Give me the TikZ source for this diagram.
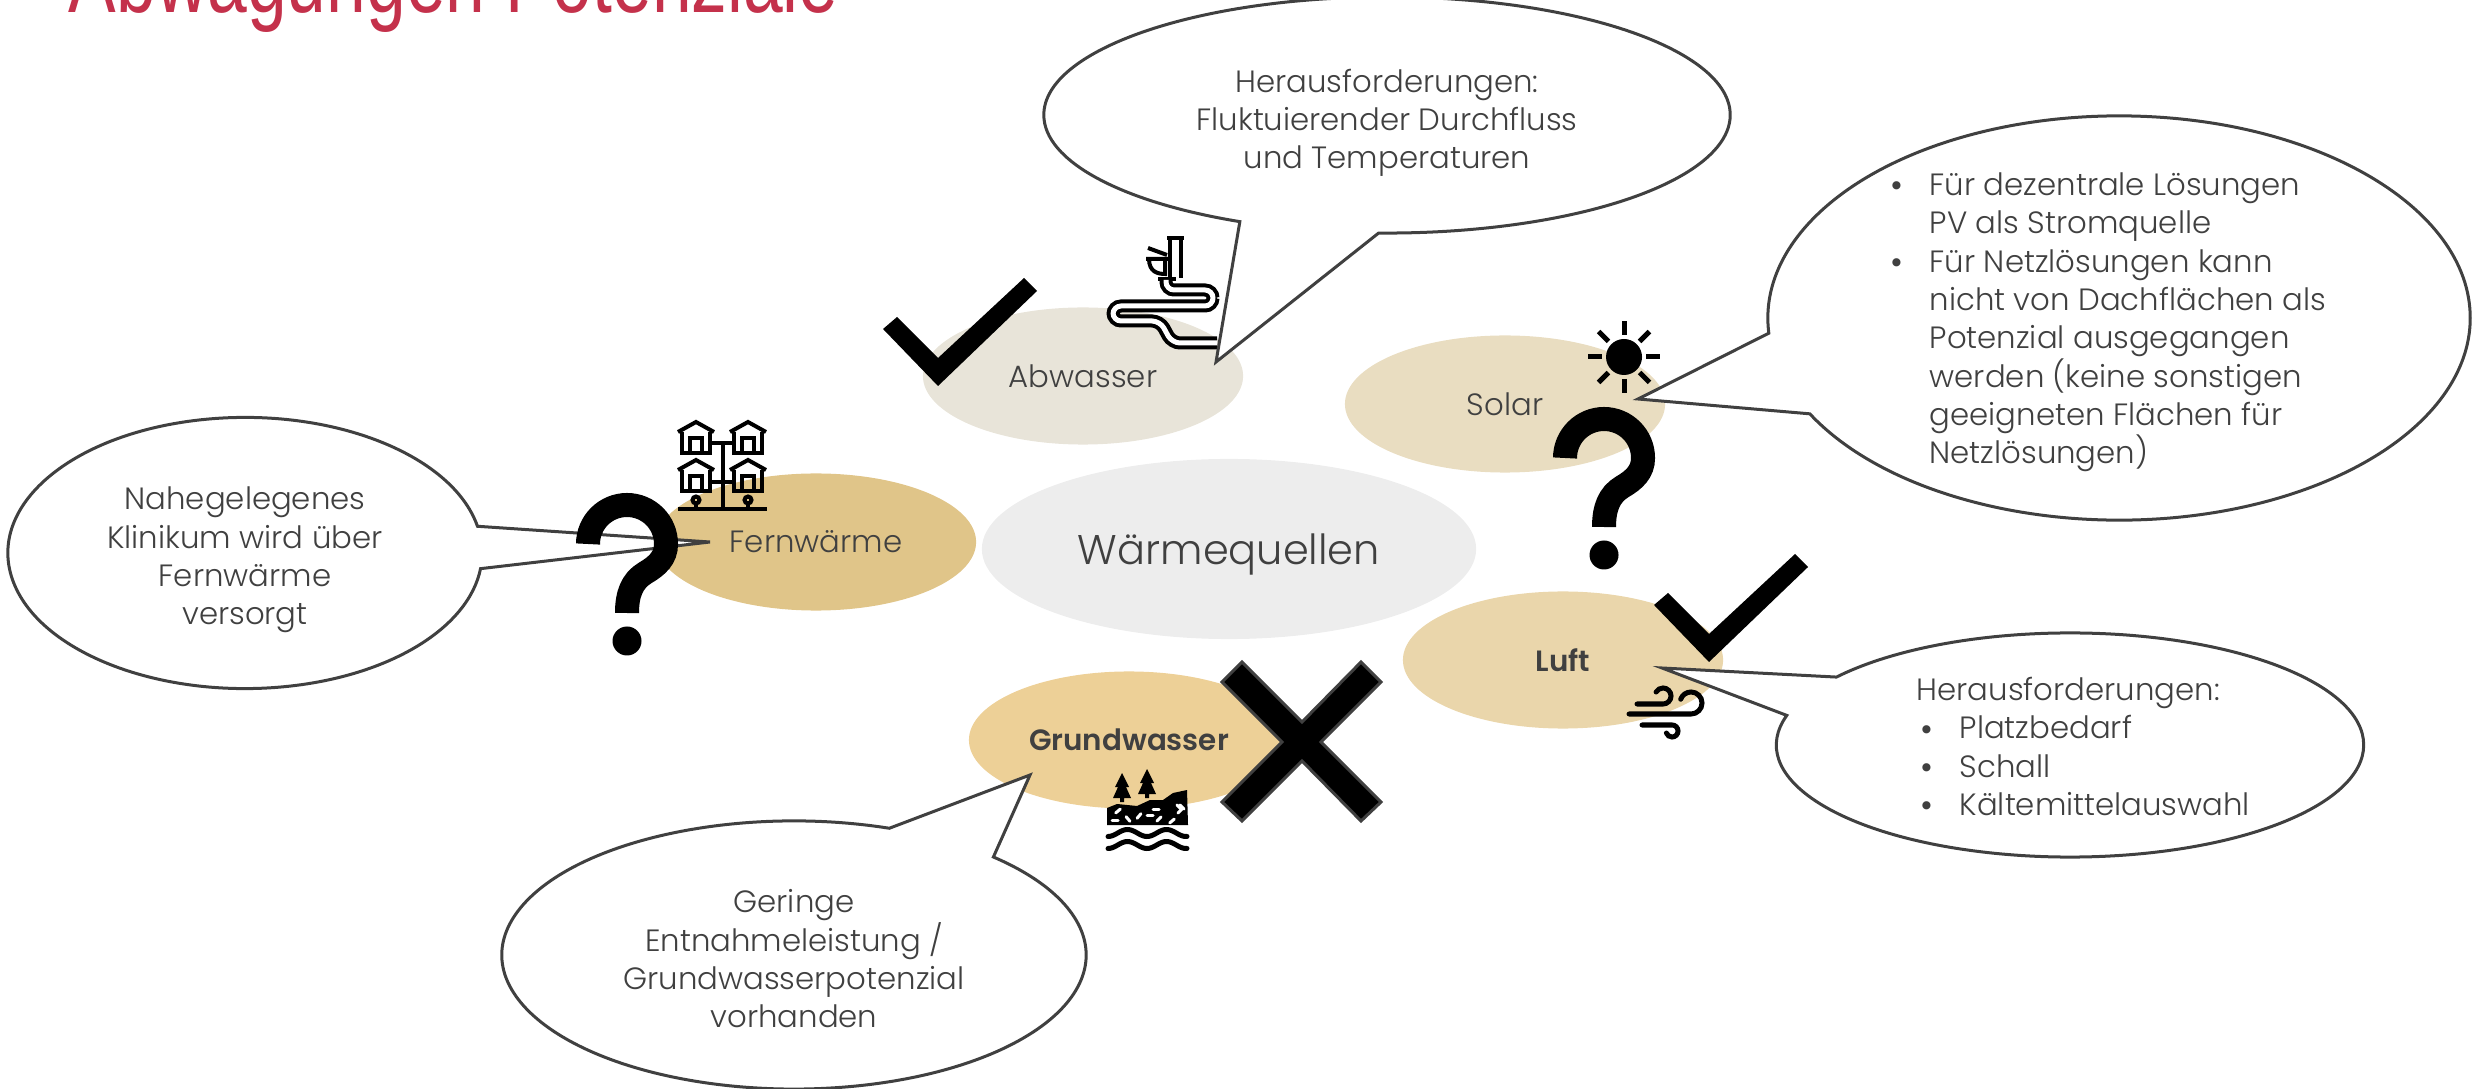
\documentclass[tikz,border=0pt]{standalone}
\usepackage{fontspec}
\setmainfont{Poppins}[UprightFont=* Light, BoldFont=* SemiBold]
\usetikzlibrary{calc}
\usetikzlibrary{positioning}
\usetikzlibrary{shapes.geometric}
\usetikzlibrary{shapes.callouts}
\definecolor{txtgray}{HTML}{404040}
\definecolor{titlered}{HTML}{C4314B}
\definecolor{abw}{HTML}{E8E4D9}
\definecolor{sol}{HTML}{E9DDC1}
\definecolor{fern}{HTML}{E0C589}
\definecolor{luf}{HTML}{EAD6AB}
\definecolor{grund}{HTML}{EDD097}
\tikzstyle{quelle} = [ellipse, minimum width=3.2cm, minimum height=1.37cm, inner sep=0pt, text=txtgray, font=\fontsize{8.75pt}{10.9pt}\selectfont]
\tikzstyle{fett} = [font=\fontsize{8.35pt}{10.9pt}\selectfont\bfseries]
\tikzstyle{blase} = [ellipse callout, draw=txtgray, fill=white, line width=0.03cm, inner sep=0pt]
\tikzstyle{blasetext} = [text=txtgray, inner sep=0pt, align=center, font=\fontsize{8.75pt}{10.9pt}\selectfont]
\tikzstyle{liste} = [text=txtgray, inner sep=0pt, align=left, font=\fontsize{8.75pt}{10.9pt}\selectfont]
\tikzstyle{punkt} = [text=txtgray, inner sep=0pt]
\tikzstyle{icon} = [black, line width=0.04cm, fill=none]
\tikzset{
  frage/.pic={
    \draw[black, line width=0.24cm] (-39,0) arc[start angle=180, end angle=360, radius=39]
      .. controls (39,14) and (30,22) .. (18,29) .. controls (5,37) and (0,50) .. (0,69);
    \fill[black] (0,97) circle[radius=14.5];
  },
  haus/.pic={
    \draw[icon] (-18,10) -- (0,0) -- (18,10);
    \draw[icon] (-14,10) -- (-14,31) -- (14,31) -- (14,10);
    \draw[icon] (-6,31) -- (-6,16) -- (6,16) -- (6,31);
  },
  haken/.pic={
    \fill[black] (0,0) -- (14,-12) -- (55,29) -- (141,-51) -- (154,-38) -- (55,57) -- cycle;
  },
  baum/.pic={
    \fill[black] (0,0) -- (7,14) -- (4,14) -- (9,25) -- (2,25) -- (2,29) -- (-2,29) -- (-2,25) -- (-9,25) -- (-4,14) -- (-7,14) -- cycle;
  }
}
\begin{document}
\begin{tikzpicture}[x=0.01cm, y=-0.01cm]
\clip (0,0) rectangle (2483,1089);
\node[anchor=base west, inner sep=0pt, text=titlered, yscale=1.35, transform shape, font=\fontsize{20.3pt}{20pt}\selectfont\fontspec{Liberation Sans}] (titel) at (68,13) {Abwägungen Potenziale};

\node[quelle, fill=black!7, minimum width=4.94cm, minimum height=1.8cm, text depth=0pt, font=\fontsize{11.8pt}{14pt}\selectfont] (waerme) at (1229,549) {Wärmequellen};
\node[quelle, fill=abw] (abwasser) at (1083,376) {Abwasser};
\node[quelle, fill=sol] (solar) at (1505,404) {Solar};
\node[quelle, fill=fern] (fernwaerme) at (816,542) {Fernwärme};
\node[quelle, fill=luf, fett] (luft) at (1563,660) {Luft};
\node[quelle, fill=grund, fett] (grundwasser) at (1129,740) {Grundwasser};

% pipe
\draw[icon] (1170,238) -- (1170,278) (1181,238) -- (1181,278) (1167,238) -- (1184,238) (1158,279) -- (1176,279);
\draw[icon] (1148,248) -- (1167,255);
\draw[icon] (1146,259) -- (1168,259) (1149,259) .. controls (1149,272) and (1158,274) .. (1165,274) -- (1165,259);
\draw[black, line width=0.04cm, double=white, double distance=0.05cm, rounded corners=0.08cm] (1166,280) -- (1166,290) -- (1213,290) -- (1213,306) -- (1113,306) -- (1113,321) -- (1160,321) -- (1172,343) -- (1217,343);

% sun
\fill[black] (1624,357) circle[radius=18];
\foreach \a in {0,45,...,315} {
  \draw[black, line width=0.05cm] ($(1624,357)+(\a:22)$) -- ($(1624,357)+(\a:36)$);
}

% houses
\pic at (696,422) {haus};
\pic at (748,422) {haus};
\pic at (696,460) {haus};
\pic at (748,460) {haus};
\draw[icon] (723,443) -- (723,509) (710,443) -- (734,443) (710,482) -- (734,482) (678,509) -- (767,509);
\draw[icon] (696,504) -- (696,509) (748,504) -- (748,509);
\draw[icon] (696,500) circle[radius=3.5] (748,500) circle[radius=3.5];

% wind
\draw[black, line width=0.05cm, line cap=round] (1637,704) -- (1663,704) arc[start angle=90, end angle=-150, radius=8];
\draw[black, line width=0.05cm, line cap=round] (1629,714) -- (1691,714) arc[start angle=90, end angle=-160, radius=11];
\draw[black, line width=0.05cm, line cap=round] (1642,725) -- (1672,725) arc[start angle=-90, end angle=160, radius=6];

% ground
\fill[black] (1107,825) -- (1107,808) -- (1117,804) -- (1137,806) -- (1150,800) -- (1163,800) -- (1173,793) -- (1187,790) -- (1188,825) -- cycle;
\foreach \x/\y/\a in {1118/811/-40,1128/819/50,1139/816/-50,1156/809/0,1172/821/-40,1150/815/0,1159/819/-45,1179/807/45,1182/807/45,1180/811/-45,1115/820/0} {
  \draw[white, line width=0.03cm, line cap=round] ($(\x,\y)+(\a:3)$) -- ($(\x,\y)+(\a:-3)$);
}
\pic at (1122,773) {baum};
\pic at (1147,769) {baum};
\draw[black, line width=0.05cm, line cap=round] plot[domain=0:79, samples=50] ({1108+\x}, {833+3.5*cos(\x/39*360)});
\draw[black, line width=0.05cm, line cap=round] plot[domain=0:79, samples=50] ({1108+\x}, {845+3.5*cos(\x/39*360)});

\node[blase, minimum width=6.86cm, minimum height=2.36cm, callout absolute pointer={(1216,362)}, callout pointer arc=24] (blaseabwasser) at (1387,115) {};
\node[blasetext] (textabwasser) at ($(blaseabwasser)+(0,8)$) {Herausforderungen:\\Fluktuierender Durchfluss\\und Temperaturen};

\node[blase, minimum width=7.02cm, minimum height=4.04cm, callout absolute pointer={(1638,399)}, callout pointer arc=24] (blasesolar) at (2119,318) {};
\node[liste, anchor=north west] (textsolar) at (1929,172) {Für dezentrale Lösungen\\PV als Stromquelle\\Für Netzlösungen kann\\nicht von Dachflächen als\\Potenzial ausgegangen\\werden (keine sonstigen\\geeigneten Flächen für\\Netzlösungen)};
\node[punkt] (punktsolara) at (1897,190) {\textbullet};
\node[punkt] (punktsolarb) at (1897,267) {\textbullet};

\node[blase, minimum width=5.87cm, minimum height=2.24cm, callout absolute pointer={(1662,668)}, callout pointer arc=22] (blaseluft) at (2070,745) {};
\node[liste, anchor=west] (textluft) at (1916,693) {Herausforderungen:};
\node[liste, anchor=north west] (listeluft) at (1959,715) {Platzbedarf\\Schall\\Kältemittelauswahl};
\foreach \y/\n in {734/a,772/b,810/c} {
  \node[punkt] (punktluft\n) at (1927,\y) {\textbullet};
}

\node[blase, minimum width=5.84cm, minimum height=2.68cm, callout absolute pointer={(1030,775)}, callout pointer arc=24] (blasegrund) at (794,955) {};
\node[blasetext] (textgrund) at ($(blasegrund)+(0,4)$) {Geringe\\Entnahmeleistung /\\Grundwasserpotenzial\\vorhanden};

\node[blase, minimum width=4.74cm, minimum height=2.71cm, callout absolute pointer={(710,542)}, callout pointer arc=18] (blasefern) at (245,553) {};
\node[blasetext] (textfern) at ($(blasefern)+(0,7)$) {Nahegelegenes\\Klinikum wird über\\Fernwärme\\versorgt};

\pic at (883,329) {haken};
\pic at (1654,605) {haken};
\pic at (1604,458) {frage};
\pic at (627,544) {frage};
\draw[black, fill=black, draw=txtgray, line width=0.03cm] (1242,662) -- (1302,722) -- (1361,662) -- (1381,682) -- (1321,742) -- (1381,802) -- (1361,821) -- (1302,761) -- (1242,821) -- (1222,802) -- (1282,742) -- (1222,682) -- cycle;
\end{tikzpicture}
\end{document}
